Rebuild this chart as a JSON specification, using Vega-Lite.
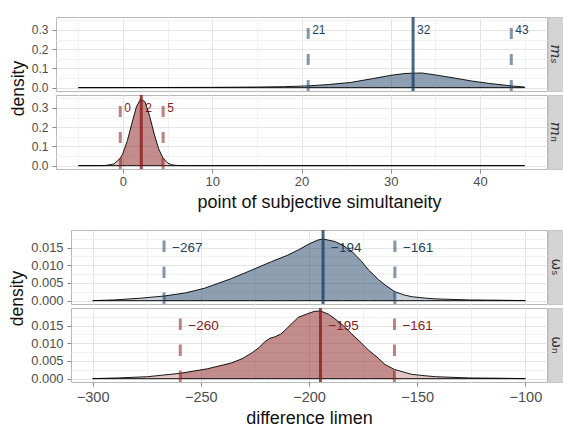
{
  "$schema": "https://vega.github.io/schema/vega-lite/v6.json",
  "padding": {"left": 8, "top": 13, "right": 0, "bottom": 0},
  "config": {
    "font": "Liberation Sans",
    "view": {"stroke": "#b8b8b8", "strokeWidth": 1},
    "axis": {"domain": false, "labelFont": "Liberation Sans", "titleFont": "Liberation Sans", "labelColor": "#4d4d4d", "titleColor": "#111111", "titleFontWeight": "normal", "tickColor": "#8a8a8a", "tickSize": 4, "gridWidth": 1, "labelOverlap": false}
  },
  "datasets": {
    "rows": [
      {"p":"ms","kind":"dens","x":-5,"d":0},{"p":"ms","kind":"dens","x":0,"d":0.0003},{"p":"ms","kind":"dens","x":5,"d":0.0008},{"p":"ms","kind":"dens","x":10,"d":0.0015},{"p":"ms","kind":"dens","x":15,"d":0.003},{"p":"ms","kind":"dens","x":18,"d":0.005},{"p":"ms","kind":"dens","x":20.75,"d":0.009},{"p":"ms","kind":"dens","x":23,"d":0.016},{"p":"ms","kind":"dens","x":25.5,"d":0.027},{"p":"ms","kind":"dens","x":28,"d":0.047},{"p":"ms","kind":"dens","x":30,"d":0.064},{"p":"ms","kind":"dens","x":31.5,"d":0.073},{"p":"ms","kind":"dens","x":32.5,"d":0.0755},{"p":"ms","kind":"dens","x":33.5,"d":0.076},{"p":"ms","kind":"dens","x":35,"d":0.066},{"p":"ms","kind":"dens","x":37,"d":0.051},{"p":"ms","kind":"dens","x":39,"d":0.035},{"p":"ms","kind":"dens","x":41,"d":0.022},{"p":"ms","kind":"dens","x":43.5,"d":0.009},{"p":"ms","kind":"dens","x":45,"d":0.003},
      {"p":"mn","kind":"dens","x":-5,"d":0},{"p":"mn","kind":"dens","x":-3,"d":0.0001},{"p":"mn","kind":"dens","x":-2,"d":0.0005},{"p":"mn","kind":"dens","x":-1,"d":0.0087},{"p":"mn","kind":"dens","x":-0.3,"d":0.038},{"p":"mn","kind":"dens","x":0,"d":0.064},{"p":"mn","kind":"dens","x":0.5,"d":0.131},{"p":"mn","kind":"dens","x":1,"d":0.22},{"p":"mn","kind":"dens","x":1.5,"d":0.305},{"p":"mn","kind":"dens","x":2,"d":0.349},{"p":"mn","kind":"dens","x":2.5,"d":0.329},{"p":"mn","kind":"dens","x":3,"d":0.256},{"p":"mn","kind":"dens","x":3.5,"d":0.165},{"p":"mn","kind":"dens","x":4,"d":0.087},{"p":"mn","kind":"dens","x":4.5,"d":0.038},{"p":"mn","kind":"dens","x":5,"d":0.0138},{"p":"mn","kind":"dens","x":5.5,"d":0.0041},{"p":"mn","kind":"dens","x":6,"d":0.001},{"p":"mn","kind":"dens","x":7,"d":0.0001},{"p":"mn","kind":"dens","x":10,"d":0},{"p":"mn","kind":"dens","x":45,"d":0},
      {"p":"ws","kind":"dens","x":-300,"d":0},{"p":"ws","kind":"dens","x":-290,"d":0.0002},{"p":"ws","kind":"dens","x":-277.7,"d":0.0007},{"p":"ws","kind":"dens","x":-267,"d":0.0013},{"p":"ws","kind":"dens","x":-257,"d":0.0022},{"p":"ws","kind":"dens","x":-248.3,"d":0.0035},{"p":"ws","kind":"dens","x":-236,"d":0.0062},{"p":"ws","kind":"dens","x":-227,"d":0.0085},{"p":"ws","kind":"dens","x":-217.4,"d":0.011},{"p":"ws","kind":"dens","x":-210,"d":0.0128},{"p":"ws","kind":"dens","x":-205,"d":0.0143},{"p":"ws","kind":"dens","x":-200,"d":0.016},{"p":"ws","kind":"dens","x":-196,"d":0.0171},{"p":"ws","kind":"dens","x":-193.5,"d":0.0174},{"p":"ws","kind":"dens","x":-188,"d":0.0167},{"p":"ws","kind":"dens","x":-184,"d":0.0155},{"p":"ws","kind":"dens","x":-180,"d":0.0138},{"p":"ws","kind":"dens","x":-176,"d":0.0113},{"p":"ws","kind":"dens","x":-172.5,"d":0.0087},{"p":"ws","kind":"dens","x":-168,"d":0.006},{"p":"ws","kind":"dens","x":-164.8,"d":0.0044},{"p":"ws","kind":"dens","x":-160.3,"d":0.0025},{"p":"ws","kind":"dens","x":-156,"d":0.0016},{"p":"ws","kind":"dens","x":-152.4,"d":0.0011},{"p":"ws","kind":"dens","x":-146,"d":0.0007},{"p":"ws","kind":"dens","x":-141.7,"d":0.0005},{"p":"ws","kind":"dens","x":-126,"d":0.0002},{"p":"ws","kind":"dens","x":-110,"d":0.0001},{"p":"ws","kind":"dens","x":-100,"d":0},
      {"p":"wn","kind":"dens","x":-300,"d":0},{"p":"wn","kind":"dens","x":-288,"d":0.0002},{"p":"wn","kind":"dens","x":-274.6,"d":0.00055},{"p":"wn","kind":"dens","x":-259.5,"d":0.0015},{"p":"wn","kind":"dens","x":-246.8,"d":0.0028},{"p":"wn","kind":"dens","x":-236,"d":0.0044},{"p":"wn","kind":"dens","x":-231,"d":0.0056},{"p":"wn","kind":"dens","x":-226.6,"d":0.0072},{"p":"wn","kind":"dens","x":-223,"d":0.0088},{"p":"wn","kind":"dens","x":-220.5,"d":0.0104},{"p":"wn","kind":"dens","x":-218,"d":0.0114},{"p":"wn","kind":"dens","x":-215.8,"d":0.0118},{"p":"wn","kind":"dens","x":-213,"d":0.0126},{"p":"wn","kind":"dens","x":-211.2,"d":0.0136},{"p":"wn","kind":"dens","x":-208,"d":0.0155},{"p":"wn","kind":"dens","x":-205,"d":0.0173},{"p":"wn","kind":"dens","x":-200.4,"d":0.0184},{"p":"wn","kind":"dens","x":-197.5,"d":0.019},{"p":"wn","kind":"dens","x":-194.7,"d":0.0191},{"p":"wn","kind":"dens","x":-191,"d":0.0182},{"p":"wn","kind":"dens","x":-188,"d":0.0169},{"p":"wn","kind":"dens","x":-184,"d":0.0149},{"p":"wn","kind":"dens","x":-180.4,"d":0.0127},{"p":"wn","kind":"dens","x":-176,"d":0.0102},{"p":"wn","kind":"dens","x":-172.6,"d":0.0081},{"p":"wn","kind":"dens","x":-168,"d":0.0058},{"p":"wn","kind":"dens","x":-164.9,"d":0.004},{"p":"wn","kind":"dens","x":-160.5,"d":0.0026},{"p":"wn","kind":"dens","x":-156,"d":0.0018},{"p":"wn","kind":"dens","x":-152.4,"d":0.0012},{"p":"wn","kind":"dens","x":-146,"d":0.0008},{"p":"wn","kind":"dens","x":-141.6,"d":0.00055},{"p":"wn","kind":"dens","x":-126,"d":0.0002},{"p":"wn","kind":"dens","x":-110,"d":0.0001},{"p":"wn","kind":"dens","x":-100,"d":0},
      {"p":"ms","kind":"lo","x":20.75,"label":"21"},{"p":"ms","kind":"mid","x":32.5,"label":"32"},{"p":"ms","kind":"hi","x":43.5,"label":"43"},
      {"p":"mn","kind":"lo","x":-0.3,"label":"0"},{"p":"mn","kind":"mid","x":2.05,"label":"2"},{"p":"mn","kind":"hi","x":4.5,"label":"5"},
      {"p":"ws","kind":"lo","x":-267,"label":"−267"},{"p":"ws","kind":"mid","x":-193.5,"label":"−194"},{"p":"ws","kind":"hi","x":-160.3,"label":"−161"},
      {"p":"wn","kind":"lo","x":-259.5,"label":"−260"},{"p":"wn","kind":"mid","x":-194.7,"label":"−195"},{"p":"wn","kind":"hi","x":-160.5,"label":"−161"}
    ]
  },
  "columns": 1,
  "bounds": "full",
  "spacing": 16,
  "concat": [
    {
      "columns": 2,
      "spacing": {"row": 4, "column": 1},
      "bounds": "flush",
      "concat": [
        {
          "width": 491, "height": 74,
          "layer": [
            {"data": {"name": "rows"}, "transform": [{"filter": "datum.p==='ms' && datum.kind==='dens'"}], "mark": {"type": "area", "fill": "#1f3f66", "fillOpacity": 0.25},
             "encoding": {
              "x": {"field": "x", "type": "quantitative", "scale": {"domain": [-7.5, 47.5], "nice": false, "zero": false},
                "axis": {"values": [-5,0,5,10,15,20,25,30,35,40,45], "labels": false, "ticks": false, "title": null,
                  "gridColor": {"condition": {"test": "datum.value % 10 === 0", "value": "#e4e4e4"}, "value": "#f2f2f2"}}},
              "y": {"field": "d", "type": "quantitative", "scale": {"domain": [-0.0175, 0.3675], "nice": false, "zero": false},
                "axis": {"values": [0,0.05,0.1,0.15,0.2,0.25,0.3,0.35], "labelExpr": "round(datum.value*20)%2===0 ? format(datum.value,'.1f') : ''", "tickOpacity": {"condition": {"test": "round(datum.value*20)%2===0", "value": 1}, "value": 0}, "gridColor": {"condition": {"test": "round(datum.value*20)%2===0", "value": "#e4e4e4"}, "value": "#f2f2f2"}, "labelFontSize": 12, "labelPadding": 4, "title": "density", "titleFontSize": 17.5, "titlePadding": 4, "titleY": 71}}}},
            {"data": {"name": "rows"}, "transform": [{"filter": "datum.p==='ms' && datum.kind==='dens' && datum.x>=20.75 && datum.x<=43.5"}], "mark": {"type": "area", "fill": "#1f3f66", "fillOpacity": 0.333},
             "encoding": {"x": {"field": "x", "type": "quantitative", "scale": {"domain": [-7.5, 47.5], "nice": false, "zero": false}},
              "y": {"field": "d", "type": "quantitative", "scale": {"domain": [-0.0175, 0.3675], "nice": false, "zero": false},
                "axis": {"values": [0,0.05,0.1,0.15,0.2,0.25,0.3,0.35], "labelExpr": "round(datum.value*20)%2===0 ? format(datum.value,'.1f') : ''", "tickOpacity": {"condition": {"test": "round(datum.value*20)%2===0", "value": 1}, "value": 0}, "gridColor": {"condition": {"test": "round(datum.value*20)%2===0", "value": "#e4e4e4"}, "value": "#f2f2f2"}, "labelFontSize": 12, "labelPadding": 4, "title": "density", "titleFontSize": 17.5, "titlePadding": 4, "titleY": 71}}}},
            {"data": {"name": "rows"}, "transform": [{"filter": "datum.p==='ms' && datum.kind!=='dens'"}], "mark": {"type": "text", "align": "left", "baseline": "middle", "dx": 4, "fontSize": 12, "fill": "#1f3f66"},
             "encoding": {"x": {"field": "x", "type": "quantitative", "scale": {"domain": [-7.5, 47.5], "nice": false, "zero": false}},
              "y": {"datum": 0.3, "type": "quantitative", "scale": {"domain": [-0.0175, 0.3675], "nice": false, "zero": false},
                "axis": {"values": [0,0.05,0.1,0.15,0.2,0.25,0.3,0.35], "labelExpr": "round(datum.value*20)%2===0 ? format(datum.value,'.1f') : ''", "tickOpacity": {"condition": {"test": "round(datum.value*20)%2===0", "value": 1}, "value": 0}, "gridColor": {"condition": {"test": "round(datum.value*20)%2===0", "value": "#e4e4e4"}, "value": "#f2f2f2"}, "labelFontSize": 12, "labelPadding": 4, "title": "density", "titleFontSize": 17.5, "titlePadding": 4, "titleY": 71}},
              "text": {"field": "label"}}},
            {"data": {"name": "rows"}, "transform": [{"filter": "datum.p==='ms' && datum.kind==='dens'"}], "mark": {"type": "area", "fillOpacity": 0, "stroke": "#000000", "strokeWidth": 0.9},
             "encoding": {"x": {"field": "x", "type": "quantitative", "scale": {"domain": [-7.5, 47.5], "nice": false, "zero": false}},
              "y": {"field": "d", "type": "quantitative", "scale": {"domain": [-0.0175, 0.3675], "nice": false, "zero": false},
                "axis": {"values": [0,0.05,0.1,0.15,0.2,0.25,0.3,0.35], "labelExpr": "round(datum.value*20)%2===0 ? format(datum.value,'.1f') : ''", "tickOpacity": {"condition": {"test": "round(datum.value*20)%2===0", "value": 1}, "value": 0}, "gridColor": {"condition": {"test": "round(datum.value*20)%2===0", "value": "#e4e4e4"}, "value": "#f2f2f2"}, "labelFontSize": 12, "labelPadding": 4, "title": "density", "titleFontSize": 17.5, "titlePadding": 4, "titleY": 71}}}},
            {"data": {"name": "rows"}, "transform": [{"filter": "datum.p==='ms' && (datum.kind==='lo' || datum.kind==='hi')"}], "mark": {"type": "rule", "stroke": "#1f3f66", "strokeWidth": 3, "strokeOpacity": 0.55, "strokeDash": [11, 15]},
             "encoding": {"x": {"field": "x", "type": "quantitative", "scale": {"domain": [-7.5, 47.5], "nice": false, "zero": false}},
              "y": {"datum": -0.0175, "type": "quantitative", "scale": {"domain": [-0.0175, 0.3675], "nice": false, "zero": false},
                "axis": {"values": [0,0.05,0.1,0.15,0.2,0.25,0.3,0.35], "labelExpr": "round(datum.value*20)%2===0 ? format(datum.value,'.1f') : ''", "tickOpacity": {"condition": {"test": "round(datum.value*20)%2===0", "value": 1}, "value": 0}, "gridColor": {"condition": {"test": "round(datum.value*20)%2===0", "value": "#e4e4e4"}, "value": "#f2f2f2"}, "labelFontSize": 12, "labelPadding": 4, "title": "density", "titleFontSize": 17.5, "titlePadding": 4, "titleY": 71}},
              "y2": {"datum": 0.3675}}},
            {"data": {"name": "rows"}, "transform": [{"filter": "datum.p==='ms' && datum.kind==='mid'"}], "mark": {"type": "rule", "stroke": "#1f3f66", "strokeWidth": 3, "strokeOpacity": 0.8},
             "encoding": {"x": {"field": "x", "type": "quantitative", "scale": {"domain": [-7.5, 47.5], "nice": false, "zero": false}},
              "y": {"datum": -0.0175, "type": "quantitative", "scale": {"domain": [-0.0175, 0.3675], "nice": false, "zero": false},
                "axis": {"values": [0,0.05,0.1,0.15,0.2,0.25,0.3,0.35], "labelExpr": "round(datum.value*20)%2===0 ? format(datum.value,'.1f') : ''", "tickOpacity": {"condition": {"test": "round(datum.value*20)%2===0", "value": 1}, "value": 0}, "gridColor": {"condition": {"test": "round(datum.value*20)%2===0", "value": "#e4e4e4"}, "value": "#f2f2f2"}, "labelFontSize": 12, "labelPadding": 4, "title": "density", "titleFontSize": 17.5, "titlePadding": 4, "titleY": 71}},
              "y2": {"datum": 0.3675}}}
          ]
        },
        {
          "width": 16, "height": 74, "view": {"fill": "#d4d4d4", "stroke": "#c6c6c6"},
          "data": {"values": [{"label": "mₛ"}]},
          "mark": {"type": "text", "angle": 90, "align": "center", "baseline": "middle", "font": "DejaVu Serif", "fontStyle": "italic", "fontSize": 15, "fill": "#333333"},
          "encoding": {"x": {"datum": 0.5, "type": "quantitative", "scale": {"domain": [0, 1]}, "axis": null}, "y": {"datum": 0.5, "type": "quantitative", "scale": {"domain": [0, 1]}, "axis": null}, "text": {"field": "label"}}
        },
        {
          "width": 491, "height": 74,
          "layer": [
            {"data": {"name": "rows"}, "transform": [{"filter": "datum.p==='mn' && datum.kind==='dens'"}], "mark": {"type": "area", "fill": "#8b1a1a", "fillOpacity": 0.25},
             "encoding": {
              "x": {"field": "x", "type": "quantitative", "scale": {"domain": [-7.5, 47.5], "nice": false, "zero": false},
                "axis": {"values": [-5,0,5,10,15,20,25,30,35,40,45], "labelExpr": "datum.value % 10 === 0 ? datum.label : ''", "tickOpacity": {"condition": {"test": "datum.value % 10 === 0", "value": 1}, "value": 0}, "gridColor": {"condition": {"test": "datum.value % 10 === 0", "value": "#e4e4e4"}, "value": "#f2f2f2"}, "labelFontSize": 13, "labelPadding": 2, "title": "point of subjective simultaneity", "titleFontSize": 18, "titlePadding": 5, "titleX": 263}},
              "y": {"field": "d", "type": "quantitative", "scale": {"domain": [-0.0175, 0.3675], "nice": false, "zero": false},
                "axis": {"values": [0,0.05,0.1,0.15,0.2,0.25,0.3,0.35], "labelExpr": "round(datum.value*20)%2===0 ? format(datum.value,'.1f') : ''", "tickOpacity": {"condition": {"test": "round(datum.value*20)%2===0", "value": 1}, "value": 0}, "gridColor": {"condition": {"test": "round(datum.value*20)%2===0", "value": "#e4e4e4"}, "value": "#f2f2f2"}, "labelFontSize": 12, "labelPadding": 4, "title": null}}}},
            {"data": {"name": "rows"}, "transform": [{"filter": "datum.p==='mn' && datum.kind==='dens' && datum.x>=-0.3 && datum.x<=4.5"}], "mark": {"type": "area", "fill": "#8b1a1a", "fillOpacity": 0.333},
             "encoding": {"x": {"field": "x", "type": "quantitative", "scale": {"domain": [-7.5, 47.5], "nice": false, "zero": false}},
              "y": {"field": "d", "type": "quantitative", "scale": {"domain": [-0.0175, 0.3675], "nice": false, "zero": false},
                "axis": {"values": [0,0.05,0.1,0.15,0.2,0.25,0.3,0.35], "labelExpr": "round(datum.value*20)%2===0 ? format(datum.value,'.1f') : ''", "tickOpacity": {"condition": {"test": "round(datum.value*20)%2===0", "value": 1}, "value": 0}, "gridColor": {"condition": {"test": "round(datum.value*20)%2===0", "value": "#e4e4e4"}, "value": "#f2f2f2"}, "labelFontSize": 12, "labelPadding": 4, "title": null}}}},
            {"data": {"name": "rows"}, "transform": [{"filter": "datum.p==='mn' && datum.kind!=='dens'"}], "mark": {"type": "text", "align": "left", "baseline": "middle", "dx": 4, "fontSize": 12, "fill": "#8b1a1a"},
             "encoding": {"x": {"field": "x", "type": "quantitative", "scale": {"domain": [-7.5, 47.5], "nice": false, "zero": false}},
              "y": {"datum": 0.3, "type": "quantitative", "scale": {"domain": [-0.0175, 0.3675], "nice": false, "zero": false},
                "axis": {"values": [0,0.05,0.1,0.15,0.2,0.25,0.3,0.35], "labelExpr": "round(datum.value*20)%2===0 ? format(datum.value,'.1f') : ''", "tickOpacity": {"condition": {"test": "round(datum.value*20)%2===0", "value": 1}, "value": 0}, "gridColor": {"condition": {"test": "round(datum.value*20)%2===0", "value": "#e4e4e4"}, "value": "#f2f2f2"}, "labelFontSize": 12, "labelPadding": 4, "title": null}},
              "text": {"field": "label"}}},
            {"data": {"name": "rows"}, "transform": [{"filter": "datum.p==='mn' && datum.kind==='dens'"}], "mark": {"type": "area", "fillOpacity": 0, "stroke": "#000000", "strokeWidth": 0.9},
             "encoding": {"x": {"field": "x", "type": "quantitative", "scale": {"domain": [-7.5, 47.5], "nice": false, "zero": false}},
              "y": {"field": "d", "type": "quantitative", "scale": {"domain": [-0.0175, 0.3675], "nice": false, "zero": false},
                "axis": {"values": [0,0.05,0.1,0.15,0.2,0.25,0.3,0.35], "labelExpr": "round(datum.value*20)%2===0 ? format(datum.value,'.1f') : ''", "tickOpacity": {"condition": {"test": "round(datum.value*20)%2===0", "value": 1}, "value": 0}, "gridColor": {"condition": {"test": "round(datum.value*20)%2===0", "value": "#e4e4e4"}, "value": "#f2f2f2"}, "labelFontSize": 12, "labelPadding": 4, "title": null}}}},
            {"data": {"name": "rows"}, "transform": [{"filter": "datum.p==='mn' && (datum.kind==='lo' || datum.kind==='hi')"}], "mark": {"type": "rule", "stroke": "#8b1a1a", "strokeWidth": 3, "strokeOpacity": 0.55, "strokeDash": [11, 15]},
             "encoding": {"x": {"field": "x", "type": "quantitative", "scale": {"domain": [-7.5, 47.5], "nice": false, "zero": false}},
              "y": {"datum": -0.0175, "type": "quantitative", "scale": {"domain": [-0.0175, 0.3675], "nice": false, "zero": false},
                "axis": {"values": [0,0.05,0.1,0.15,0.2,0.25,0.3,0.35], "labelExpr": "round(datum.value*20)%2===0 ? format(datum.value,'.1f') : ''", "tickOpacity": {"condition": {"test": "round(datum.value*20)%2===0", "value": 1}, "value": 0}, "gridColor": {"condition": {"test": "round(datum.value*20)%2===0", "value": "#e4e4e4"}, "value": "#f2f2f2"}, "labelFontSize": 12, "labelPadding": 4, "title": null}},
              "y2": {"datum": 0.3675}}},
            {"data": {"name": "rows"}, "transform": [{"filter": "datum.p==='mn' && datum.kind==='mid'"}], "mark": {"type": "rule", "stroke": "#8b1a1a", "strokeWidth": 3, "strokeOpacity": 0.8},
             "encoding": {"x": {"field": "x", "type": "quantitative", "scale": {"domain": [-7.5, 47.5], "nice": false, "zero": false}},
              "y": {"datum": -0.0175, "type": "quantitative", "scale": {"domain": [-0.0175, 0.3675], "nice": false, "zero": false},
                "axis": {"values": [0,0.05,0.1,0.15,0.2,0.25,0.3,0.35], "labelExpr": "round(datum.value*20)%2===0 ? format(datum.value,'.1f') : ''", "tickOpacity": {"condition": {"test": "round(datum.value*20)%2===0", "value": 1}, "value": 0}, "gridColor": {"condition": {"test": "round(datum.value*20)%2===0", "value": "#e4e4e4"}, "value": "#f2f2f2"}, "labelFontSize": 12, "labelPadding": 4, "title": null}},
              "y2": {"datum": 0.3675}}}
          ]
        },
        {
          "width": 16, "height": 74, "view": {"fill": "#d4d4d4", "stroke": "#c6c6c6"},
          "data": {"values": [{"label": "mₙ"}]},
          "mark": {"type": "text", "angle": 90, "align": "center", "baseline": "middle", "font": "DejaVu Serif", "fontStyle": "italic", "fontSize": 15, "fill": "#333333"},
          "encoding": {"x": {"datum": 0.5, "type": "quantitative", "scale": {"domain": [0, 1]}, "axis": null}, "y": {"datum": 0.5, "type": "quantitative", "scale": {"domain": [0, 1]}, "axis": null}, "text": {"field": "label"}}
        }
      ]
    },
    {
      "columns": 3,
      "spacing": {"row": 4, "column": 1},
      "bounds": "flush",
      "concat": [
        {"width": 14, "height": 74, "view": {"stroke": null}, "data": {"values": []}, "mark": "point"},
        {
          "width": 476, "height": 74,
          "layer": [
            {"data": {"name": "rows"}, "transform": [{"filter": "datum.p==='ws' && datum.kind==='dens'"}], "mark": {"type": "area", "fill": "#1f3f66", "fillOpacity": 0.25},
             "encoding": {
              "x": {"field": "x", "type": "quantitative", "scale": {"domain": [-310, -90], "nice": false, "zero": false},
                "axis": {"values": [-300,-275,-250,-225,-200,-175,-150,-125,-100], "labels": false, "ticks": false, "title": null,
                  "gridColor": {"condition": {"test": "datum.value % 50 === 0", "value": "#e4e4e4"}, "value": "#f2f2f2"}}},
              "y": {"field": "d", "type": "quantitative", "scale": {"domain": [-0.00095, 0.01995], "nice": false, "zero": false},
                "axis": {"values": [0,0.0025,0.005,0.0075,0.01,0.0125,0.015,0.0175], "labelExpr": "round(datum.value*400)%2===0 ? format(datum.value,'.3f') : ''", "tickOpacity": {"condition": {"test": "round(datum.value*400)%2===0", "value": 1}, "value": 0}, "gridColor": {"condition": {"test": "round(datum.value*400)%2===0", "value": "#e4e4e4"}, "value": "#f2f2f2"}, "labelFontSize": 12.9, "labelPadding": 4, "title": "density", "titleFontSize": 17.5, "titlePadding": 4, "titleY": 68}}}},
            {"data": {"name": "rows"}, "transform": [{"filter": "datum.p==='ws' && datum.kind==='dens' && datum.x>=-267 && datum.x<=-160.3"}], "mark": {"type": "area", "fill": "#1f3f66", "fillOpacity": 0.333},
             "encoding": {"x": {"field": "x", "type": "quantitative", "scale": {"domain": [-310, -90], "nice": false, "zero": false}},
              "y": {"field": "d", "type": "quantitative", "scale": {"domain": [-0.00095, 0.01995], "nice": false, "zero": false},
                "axis": {"values": [0,0.0025,0.005,0.0075,0.01,0.0125,0.015,0.0175], "labelExpr": "round(datum.value*400)%2===0 ? format(datum.value,'.3f') : ''", "tickOpacity": {"condition": {"test": "round(datum.value*400)%2===0", "value": 1}, "value": 0}, "gridColor": {"condition": {"test": "round(datum.value*400)%2===0", "value": "#e4e4e4"}, "value": "#f2f2f2"}, "labelFontSize": 12.9, "labelPadding": 4, "title": "density", "titleFontSize": 17.5, "titlePadding": 4, "titleY": 68}}}},
            {"data": {"name": "rows"}, "transform": [{"filter": "datum.p==='ws' && datum.kind!=='dens'"}], "mark": {"type": "text", "align": "left", "baseline": "middle", "dx": 8, "fontSize": 13.5, "fill": "#1f3f66"},
             "encoding": {"x": {"field": "x", "type": "quantitative", "scale": {"domain": [-310, -90], "nice": false, "zero": false}},
              "y": {"datum": 0.015, "type": "quantitative", "scale": {"domain": [-0.00095, 0.01995], "nice": false, "zero": false},
                "axis": {"values": [0,0.0025,0.005,0.0075,0.01,0.0125,0.015,0.0175], "labelExpr": "round(datum.value*400)%2===0 ? format(datum.value,'.3f') : ''", "tickOpacity": {"condition": {"test": "round(datum.value*400)%2===0", "value": 1}, "value": 0}, "gridColor": {"condition": {"test": "round(datum.value*400)%2===0", "value": "#e4e4e4"}, "value": "#f2f2f2"}, "labelFontSize": 12.9, "labelPadding": 4, "title": "density", "titleFontSize": 17.5, "titlePadding": 4, "titleY": 68}},
              "text": {"field": "label"}}},
            {"data": {"name": "rows"}, "transform": [{"filter": "datum.p==='ws' && datum.kind==='dens'"}], "mark": {"type": "area", "fillOpacity": 0, "stroke": "#000000", "strokeWidth": 0.9},
             "encoding": {"x": {"field": "x", "type": "quantitative", "scale": {"domain": [-310, -90], "nice": false, "zero": false}},
              "y": {"field": "d", "type": "quantitative", "scale": {"domain": [-0.00095, 0.01995], "nice": false, "zero": false},
                "axis": {"values": [0,0.0025,0.005,0.0075,0.01,0.0125,0.015,0.0175], "labelExpr": "round(datum.value*400)%2===0 ? format(datum.value,'.3f') : ''", "tickOpacity": {"condition": {"test": "round(datum.value*400)%2===0", "value": 1}, "value": 0}, "gridColor": {"condition": {"test": "round(datum.value*400)%2===0", "value": "#e4e4e4"}, "value": "#f2f2f2"}, "labelFontSize": 12.9, "labelPadding": 4, "title": "density", "titleFontSize": 17.5, "titlePadding": 4, "titleY": 68}}}},
            {"data": {"name": "rows"}, "transform": [{"filter": "datum.p==='ws' && (datum.kind==='lo' || datum.kind==='hi')"}], "mark": {"type": "rule", "stroke": "#1f3f66", "strokeWidth": 3, "strokeOpacity": 0.55, "strokeDash": [11.5, 14.5]},
             "encoding": {"x": {"field": "x", "type": "quantitative", "scale": {"domain": [-310, -90], "nice": false, "zero": false}},
              "y": {"datum": -0.00095, "type": "quantitative", "scale": {"domain": [-0.00095, 0.01995], "nice": false, "zero": false},
                "axis": {"values": [0,0.0025,0.005,0.0075,0.01,0.0125,0.015,0.0175], "labelExpr": "round(datum.value*400)%2===0 ? format(datum.value,'.3f') : ''", "tickOpacity": {"condition": {"test": "round(datum.value*400)%2===0", "value": 1}, "value": 0}, "gridColor": {"condition": {"test": "round(datum.value*400)%2===0", "value": "#e4e4e4"}, "value": "#f2f2f2"}, "labelFontSize": 12.9, "labelPadding": 4, "title": "density", "titleFontSize": 17.5, "titlePadding": 4, "titleY": 68}},
              "y2": {"datum": 0.01995}}},
            {"data": {"name": "rows"}, "transform": [{"filter": "datum.p==='ws' && datum.kind==='mid'"}], "mark": {"type": "rule", "stroke": "#1f3f66", "strokeWidth": 3, "strokeOpacity": 0.8},
             "encoding": {"x": {"field": "x", "type": "quantitative", "scale": {"domain": [-310, -90], "nice": false, "zero": false}},
              "y": {"datum": -0.00095, "type": "quantitative", "scale": {"domain": [-0.00095, 0.01995], "nice": false, "zero": false},
                "axis": {"values": [0,0.0025,0.005,0.0075,0.01,0.0125,0.015,0.0175], "labelExpr": "round(datum.value*400)%2===0 ? format(datum.value,'.3f') : ''", "tickOpacity": {"condition": {"test": "round(datum.value*400)%2===0", "value": 1}, "value": 0}, "gridColor": {"condition": {"test": "round(datum.value*400)%2===0", "value": "#e4e4e4"}, "value": "#f2f2f2"}, "labelFontSize": 12.9, "labelPadding": 4, "title": "density", "titleFontSize": 17.5, "titlePadding": 4, "titleY": 68}},
              "y2": {"datum": 0.01995}}}
          ]
        },
        {
          "width": 16, "height": 74, "view": {"fill": "#d4d4d4", "stroke": "#c6c6c6"},
          "data": {"values": [{"label": "ωₛ"}]},
          "mark": {"type": "text", "angle": 90, "align": "center", "baseline": "middle", "font": "DejaVu Sans", "fontSize": 14, "fill": "#333333"},
          "encoding": {"x": {"datum": 0.5, "type": "quantitative", "scale": {"domain": [0, 1]}, "axis": null}, "y": {"datum": 0.5, "type": "quantitative", "scale": {"domain": [0, 1]}, "axis": null}, "text": {"field": "label"}}
        },
        {"width": 14, "height": 74, "view": {"stroke": null}, "data": {"values": []}, "mark": "point"},
        {
          "width": 476, "height": 74,
          "layer": [
            {"data": {"name": "rows"}, "transform": [{"filter": "datum.p==='wn' && datum.kind==='dens'"}], "mark": {"type": "area", "fill": "#8b1a1a", "fillOpacity": 0.25},
             "encoding": {
              "x": {"field": "x", "type": "quantitative", "scale": {"domain": [-310, -90], "nice": false, "zero": false},
                "axis": {"values": [-300,-275,-250,-225,-200,-175,-150,-125,-100], "labelExpr": "datum.value % 50 === 0 ? datum.label : ''", "tickOpacity": {"condition": {"test": "datum.value % 50 === 0", "value": 1}, "value": 0}, "gridColor": {"condition": {"test": "datum.value % 50 === 0", "value": "#e4e4e4"}, "value": "#f2f2f2"}, "labelFontSize": 14.5, "labelPadding": 4, "title": "difference limen", "titleFontSize": 18, "titlePadding": 6}},
              "y": {"field": "d", "type": "quantitative", "scale": {"domain": [-0.00095, 0.01995], "nice": false, "zero": false},
                "axis": {"values": [0,0.0025,0.005,0.0075,0.01,0.0125,0.015,0.0175], "labelExpr": "round(datum.value*400)%2===0 ? format(datum.value,'.3f') : ''", "tickOpacity": {"condition": {"test": "round(datum.value*400)%2===0", "value": 1}, "value": 0}, "gridColor": {"condition": {"test": "round(datum.value*400)%2===0", "value": "#e4e4e4"}, "value": "#f2f2f2"}, "labelFontSize": 12.9, "labelPadding": 4, "title": null}}}},
            {"data": {"name": "rows"}, "transform": [{"filter": "datum.p==='wn' && datum.kind==='dens' && datum.x>=-259.5 && datum.x<=-160.5"}], "mark": {"type": "area", "fill": "#8b1a1a", "fillOpacity": 0.333},
             "encoding": {"x": {"field": "x", "type": "quantitative", "scale": {"domain": [-310, -90], "nice": false, "zero": false}},
              "y": {"field": "d", "type": "quantitative", "scale": {"domain": [-0.00095, 0.01995], "nice": false, "zero": false},
                "axis": {"values": [0,0.0025,0.005,0.0075,0.01,0.0125,0.015,0.0175], "labelExpr": "round(datum.value*400)%2===0 ? format(datum.value,'.3f') : ''", "tickOpacity": {"condition": {"test": "round(datum.value*400)%2===0", "value": 1}, "value": 0}, "gridColor": {"condition": {"test": "round(datum.value*400)%2===0", "value": "#e4e4e4"}, "value": "#f2f2f2"}, "labelFontSize": 12.9, "labelPadding": 4, "title": null}}}},
            {"data": {"name": "rows"}, "transform": [{"filter": "datum.p==='wn' && datum.kind!=='dens'"}], "mark": {"type": "text", "align": "left", "baseline": "middle", "dx": 8, "fontSize": 13.5, "fill": "#8b1a1a"},
             "encoding": {"x": {"field": "x", "type": "quantitative", "scale": {"domain": [-310, -90], "nice": false, "zero": false}},
              "y": {"datum": 0.015, "type": "quantitative", "scale": {"domain": [-0.00095, 0.01995], "nice": false, "zero": false},
                "axis": {"values": [0,0.0025,0.005,0.0075,0.01,0.0125,0.015,0.0175], "labelExpr": "round(datum.value*400)%2===0 ? format(datum.value,'.3f') : ''", "tickOpacity": {"condition": {"test": "round(datum.value*400)%2===0", "value": 1}, "value": 0}, "gridColor": {"condition": {"test": "round(datum.value*400)%2===0", "value": "#e4e4e4"}, "value": "#f2f2f2"}, "labelFontSize": 12.9, "labelPadding": 4, "title": null}},
              "text": {"field": "label"}}},
            {"data": {"name": "rows"}, "transform": [{"filter": "datum.p==='wn' && datum.kind==='dens'"}], "mark": {"type": "area", "fillOpacity": 0, "stroke": "#000000", "strokeWidth": 0.9},
             "encoding": {"x": {"field": "x", "type": "quantitative", "scale": {"domain": [-310, -90], "nice": false, "zero": false}},
              "y": {"field": "d", "type": "quantitative", "scale": {"domain": [-0.00095, 0.01995], "nice": false, "zero": false},
                "axis": {"values": [0,0.0025,0.005,0.0075,0.01,0.0125,0.015,0.0175], "labelExpr": "round(datum.value*400)%2===0 ? format(datum.value,'.3f') : ''", "tickOpacity": {"condition": {"test": "round(datum.value*400)%2===0", "value": 1}, "value": 0}, "gridColor": {"condition": {"test": "round(datum.value*400)%2===0", "value": "#e4e4e4"}, "value": "#f2f2f2"}, "labelFontSize": 12.9, "labelPadding": 4, "title": null}}}},
            {"data": {"name": "rows"}, "transform": [{"filter": "datum.p==='wn' && (datum.kind==='lo' || datum.kind==='hi')"}], "mark": {"type": "rule", "stroke": "#8b1a1a", "strokeWidth": 3, "strokeOpacity": 0.55, "strokeDash": [11.5, 14.5]},
             "encoding": {"x": {"field": "x", "type": "quantitative", "scale": {"domain": [-310, -90], "nice": false, "zero": false}},
              "y": {"datum": -0.00095, "type": "quantitative", "scale": {"domain": [-0.00095, 0.01995], "nice": false, "zero": false},
                "axis": {"values": [0,0.0025,0.005,0.0075,0.01,0.0125,0.015,0.0175], "labelExpr": "round(datum.value*400)%2===0 ? format(datum.value,'.3f') : ''", "tickOpacity": {"condition": {"test": "round(datum.value*400)%2===0", "value": 1}, "value": 0}, "gridColor": {"condition": {"test": "round(datum.value*400)%2===0", "value": "#e4e4e4"}, "value": "#f2f2f2"}, "labelFontSize": 12.9, "labelPadding": 4, "title": null}},
              "y2": {"datum": 0.01995}}},
            {"data": {"name": "rows"}, "transform": [{"filter": "datum.p==='wn' && datum.kind==='mid'"}], "mark": {"type": "rule", "stroke": "#8b1a1a", "strokeWidth": 3, "strokeOpacity": 0.8},
             "encoding": {"x": {"field": "x", "type": "quantitative", "scale": {"domain": [-310, -90], "nice": false, "zero": false}},
              "y": {"datum": -0.00095, "type": "quantitative", "scale": {"domain": [-0.00095, 0.01995], "nice": false, "zero": false},
                "axis": {"values": [0,0.0025,0.005,0.0075,0.01,0.0125,0.015,0.0175], "labelExpr": "round(datum.value*400)%2===0 ? format(datum.value,'.3f') : ''", "tickOpacity": {"condition": {"test": "round(datum.value*400)%2===0", "value": 1}, "value": 0}, "gridColor": {"condition": {"test": "round(datum.value*400)%2===0", "value": "#e4e4e4"}, "value": "#f2f2f2"}, "labelFontSize": 12.9, "labelPadding": 4, "title": null}},
              "y2": {"datum": 0.01995}}}
          ]
        },
        {
          "width": 16, "height": 74, "view": {"fill": "#d4d4d4", "stroke": "#c6c6c6"},
          "data": {"values": [{"label": "ωₙ"}]},
          "mark": {"type": "text", "angle": 90, "align": "center", "baseline": "middle", "font": "DejaVu Sans", "fontSize": 14, "fill": "#333333"},
          "encoding": {"x": {"datum": 0.5, "type": "quantitative", "scale": {"domain": [0, 1]}, "axis": null}, "y": {"datum": 0.5, "type": "quantitative", "scale": {"domain": [0, 1]}, "axis": null}, "text": {"field": "label"}}
        }
      ]
    }
  ]
}
